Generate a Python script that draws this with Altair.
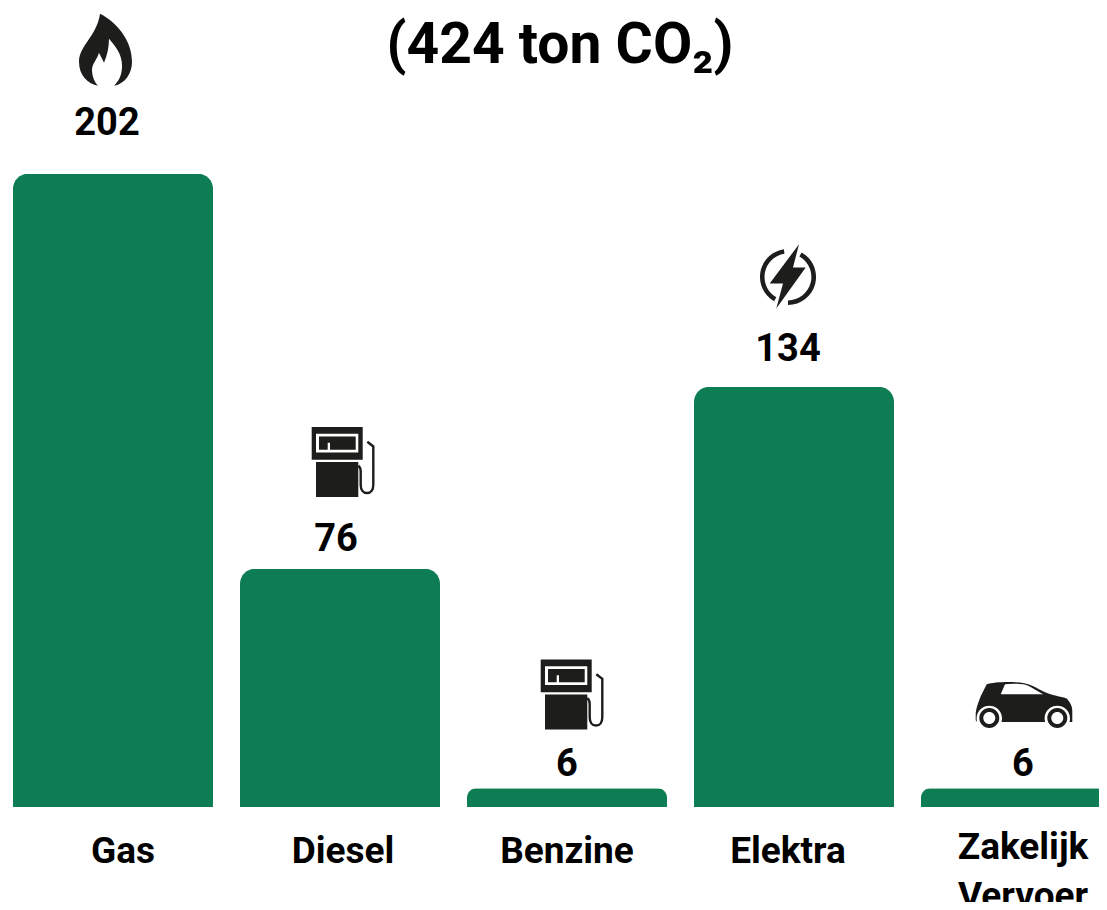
import altair as alt
import pandas as pd

categories = ["Gas", "Diesel", "Benzine", "Elektra", "Zakelijk Vervoer"]
values = [202, 76, 6, 134, 6]
title_text = "(424 ton CO₂)"

GREEN = "#0e7d53"
DARK = "#1d1d1b"
FONT = "Roboto"

FLAME = ("M-6 -36 C10 -28 26 -10 26 12 C26 24 19 34 8 36 C14 30 16 24 16 16 C16 4 9 -4 3 -11 "
         "C3 -2 1 6 -2 13 L-7 3 C-9 10 -14 14 -14 20 C-14 27 -11 33 -8 36 "
         "C-18 34 -27 26 -27 12 C-27 -4 -9 -14 -6 -36 Z")
PUMP = ("M-31.3 -34.7 H19.7 V-2 H-31.3 Z "
        "M-27 -28 V-9.3 H15.3 V-28 Z "
        "M-24 -25.3 H12.7 V-12 H-13 V-19 H-15.3 V-12 H-24 Z "
        "M-27 0.3 H15.3 V35.3 H-27 Z")
HOSE = ("M24.3 -20 L30.3 -15.3 V23 C30.3 28 28 31.3 24 31.3 C20 31.3 17.7 28 17.7 23 V9.7 "
        "C17.7 6 16.5 5 15.3 4")
BOLT = ("M11 -32.7 L5 -9.3 H17.7 L-11.7 31.7 L-5 6.7 H-18.3 Z "
        "M-4.2 -27.7 A28 28 0 0 0 -13.9 24.3 L-11.7 20.4 A23.5 23.5 0 0 1 -3.5 -23.2 Z "
        "M13.6 -24.5 A28 28 0 0 1 0 28 L0 23.5 A23.5 23.5 0 0 0 11.4 -20.5 Z")
CAR = ("M-48.3 15 V8.3 C-48 3 -44.5 -6 -43.3 -9 L-37.3 -21 C-30 -23 -15 -24 -0.7 -22.3 "
       "C8 -21 16 -15 24.3 -11.7 C30 -9.5 38 -8.5 42.7 -6.7 C46 -3 48.3 1 48.3 5 V16.7 "
       "H45.5 A12.7 12.7 0 1 0 21.1 16.7 H-22.5 A12.7 12.7 0 1 0 -46.9 16.7 L-48.3 15 Z "
       "M-23.3 -11 H19.3 C10 -16 5 -20 -0.7 -21 C-8 -21.7 -14 -21.7 -19 -21 Z "
       "M23.3 12.7 A10 10 0 1 1 43.3 12.7 A10 10 0 1 1 23.3 12.7 Z "
       "M27.3 12.7 A6 6 0 1 0 39.3 12.7 A6 6 0 1 0 27.3 12.7 Z "
       "M-44.7 12.7 A10 10 0 1 1 -24.7 12.7 A10 10 0 1 1 -44.7 12.7 Z "
       "M-40.7 12.7 A6 6 0 1 0 -28.7 12.7 A6 6 0 1 0 -40.7 12.7 Z")

icons = [
    ("Gas", FLAME, -7, -124),
    ("Diesel", PUMP, 3, -107),
    ("Benzine", PUMP, 5, -94),
    ("Elektra", BOLT, -6, -110),
    ("Zakelijk Vervoer", CAR, 3, -83),
]
hoses = [("Diesel", 3, -107), ("Benzine", 5, -94)]
value_offsets = {
    "Gas": (-6, -39),
    "Diesel": (-4, -18),
    "Benzine": (0, -12),
    "Elektra": (-6, -26),
    "Zakelijk Vervoer": (2, -12),
}

df = pd.DataFrame({"category": categories, "value": values})

PX_PER_UNIT = 3.135
PLOT_TOP = 62
PLOT_H = 737
PLOT_W = 1086

x_enc = alt.X(
    "category:N",
    sort=categories,
    title=None,
    scale=alt.Scale(range=[0, 1108], paddingInner=27 / 227, paddingOuter=0),
    axis=alt.Axis(
        domain=False,
        ticks=False,
        grid=False,
        labelAngle=0,
        labelFont=FONT,
        labelFontSize=37,
        labelFontWeight="bold",
        labelColor="#000000",
        labelLimit=400,
        labelLineHeight=49,
        labelBaseline="top",
        labelPadding=alt.expr("datum.value == 'Zakelijk Vervoer' ? 22 : 26"),
        labelOffset=alt.expr(
            "datum.value == 'Gas' ? 10 : datum.value == 'Diesel' ? 3 : "
            "datum.value == 'Elektra' ? -6 : datum.value == 'Zakelijk Vervoer' ? 2 : 0"
        ),
        labelExpr="split(datum.label, ' ')",
    ),
)
y_enc = alt.Y(
    "value:Q",
    title=None,
    axis=None,
    scale=alt.Scale(domain=[0, PLOT_H / PX_PER_UNIT], nice=False, zero=True),
)

base = alt.Chart(df).encode(x=x_enc, y=y_enc)

bars = base.mark_bar(
    color=GREEN,
    cornerRadiusTopLeft=alt.expr("datum.value < 10 ? 19 : 15"),
    cornerRadiusTopRight=alt.expr("datum.value < 10 ? 19 : 15"),
)

layers = [bars]
for cat, (dx, dy) in value_offsets.items():
    layers.append(
        base.transform_filter(alt.datum.category == cat)
        .mark_text(
            font=FONT,
            fontSize=38,
            fontWeight="bold",
            color="#000000",
            baseline="alphabetic",
            xOffset=dx,
            yOffset=dy,
        )
        .encode(text="value:Q")
    )
for cat, path, dx, dy in icons:
    layers.append(
        base.transform_filter(alt.datum.category == cat).mark_point(
            shape=path,
            size=4,
            filled=True,
            fill=DARK,
            opacity=1,
            strokeWidth=0,
            xOffset=dx,
            yOffset=dy,
        )
    )
for cat, dx, dy in hoses:
    layers.append(
        base.transform_filter(alt.datum.category == cat).mark_point(
            shape=HOSE,
            size=4,
            filled=False,
            stroke=DARK,
            strokeWidth=2.4,
            opacity=1,
            xOffset=dx,
            yOffset=dy,
        )
    )

chart = (
    alt.layer(*layers)
    .properties(
        width=PLOT_W,
        height=PLOT_H,
        padding={"left": 5, "top": PLOT_TOP, "right": 0, "bottom": 95},
        autosize=alt.AutoSizeParams(type="none"),
        background="#ffffff",
        title=alt.TitleParams(
            text=title_text,
            font=FONT,
            fontSize=57,
            fontWeight="bold",
            color="#000000",
            anchor="middle",
            frame="group",
            baseline="alphabetic",
            offset=0,
            dx=4,
            dy=106,
        ),
    )
    .configure_view(stroke=None)
)

chart.save("out.html", embed_options={"renderer": "svg", "actions": False})
